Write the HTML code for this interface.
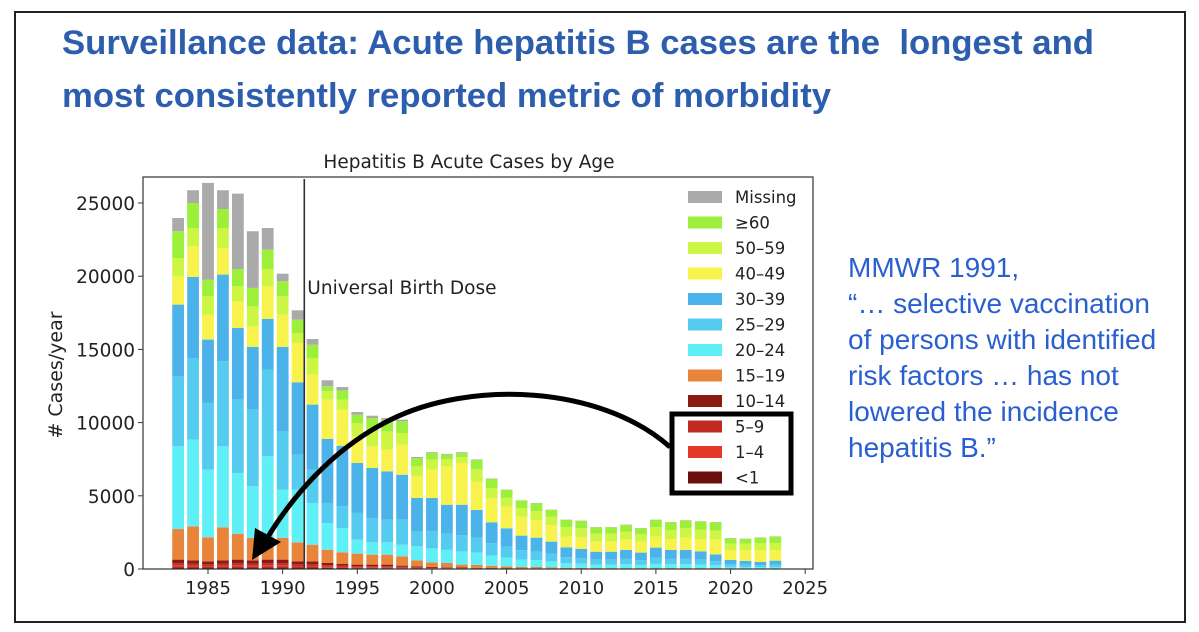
<!DOCTYPE html>
<html><head><meta charset="utf-8">
<style>
body{margin:0;background:#fff;width:1199px;height:632px;overflow:hidden;font-family:"Liberation Sans","DejaVu Sans",sans-serif}
#frame{position:absolute;left:14px;top:11px;width:1168px;height:608px;border:2px solid #222}
.title{position:absolute;left:62px;color:#2d5eae;font-weight:bold;font-size:34.7px;white-space:nowrap}
.note{position:absolute;left:848px;top:250px;color:#2a5fd0;font-size:28px;line-height:36px;white-space:nowrap}
svg{position:absolute;left:0;top:0}
svg text{font-family:"DejaVu Sans","Liberation Sans",sans-serif}
</style></head>
<body>
<div id="frame"></div>
<div class="title" style="top:24px">Surveillance data: Acute hepatitis B cases are the&nbsp; longest and</div>
<div class="title" style="top:77px">most consistently reported metric of morbidity</div>
<div class="note">MMWR 1991,<br>“… selective vaccination<br>of persons with identified<br>risk factors … has not<br>lowered the incidence<br>hepatitis B.”</div>
<svg id="chart" width="1199" height="632"></svg>
<script>
const years=[];for(let y=1983;y<=2023;y++)years.push(y);
const seriesNames=['<1','1–4','5–9','10–14','15–19','20–24','25–29','30–39','40–49','50–59','≥60','Missing'];
const seriesColors=['#6a0f0c','#e4382b','#c12a20','#8a1a12','#e8853a','#5ff0f7','#55cbef','#4cb3ea','#f7f24c','#cdf543','#9cf03c','#aaaaaa'];
const lt1=[120,110,100,110,120,110,120,120,100,100,80,70,60,60,60,40,30,30,20,20,15,15,10,10,10,10,5,5,5,5,5,5,5,5,5,5,5,2,2,2,2];
const a1_4=[130,120,100,120,130,120,130,130,100,100,80,70,60,60,60,50,40,30,30,20,15,15,10,10,10,10,5,5,5,5,5,5,5,5,5,5,5,3,3,3,3];
const a5_9=[150,140,120,140,150,140,150,150,120,120,100,90,70,70,70,60,50,40,30,25,20,15,15,10,10,10,10,10,5,5,5,5,5,5,5,5,5,2,2,2,2];
const a10_14=[240,220,200,220,240,220,240,240,200,200,150,130,110,110,110,80,60,50,40,35,30,25,25,20,20,10,10,10,5,5,5,5,5,5,5,5,5,3,3,3,3];
const a15_19=[2090,2325,1640,2260,1770,1530,1520,1480,1300,1140,910,780,750,680,680,640,410,305,290,200,200,150,120,100,90,80,60,50,40,40,40,40,40,40,40,40,40,30,30,30,30];
const a20_24=[5650,5920,4630,5530,4150,3530,5540,3300,3600,2850,1820,1660,950,840,840,790,960,950,900,900,850,700,600,500,460,400,300,280,240,240,260,220,290,260,260,240,190,110,100,90,100];
const a25_29=[4780,5575,4550,5810,5010,5230,5920,3980,2390,2280,1370,1480,1830,1660,1550,1710,1020,1170,1100,1100,1000,850,750,630,600,520,420,390,340,340,370,320,420,370,370,340,280,170,150,130,150];
const a30_39=[4900,5540,4330,5920,4890,4290,3460,5770,4940,4440,4370,4140,3410,3420,3300,3070,2280,2280,1980,2090,1900,1420,1250,1000,940,830,670,620,540,540,610,520,690,610,610,560,470,295,260,220,280];
const a40_49=[1930,2090,1700,1820,1820,1410,2230,2200,2690,2050,2690,2460,1820,1480,1480,2050,1480,1940,2620,2850,1940,1640,1480,1290,1210,1140,730,800,690,690,700,750,750,750,840,850,1000,685,750,820,730];
const a50_59=[1250,1250,1260,1360,1030,1360,1180,1260,680,1130,570,690,910,1140,1250,800,680,680,500,400,850,700,600,600,600,560,650,620,540,540,560,500,650,620,640,640,620,440,440,470,480];
const a60p=[1830,1710,1130,1300,1180,1260,1320,1020,910,910,340,630,570,790,800,800,570,450,300,280,630,620,540,500,540,460,490,490,440,440,450,410,490,510,530,550,570,360,310,370,430];
const missing=[910,870,6610,1280,5150,3870,1480,520,640,390,410,230,180,160,110,110,70,50,50,50,30,30,20,20,20,20,20,20,20,20,20,20,20,20,20,20,20,20,20,20,20];
const series=[lt1,a1_4,a5_9,a10_14,a15_19,a20_24,a25_29,a30_39,a40_49,a50_59,a60p,missing];
const xTicks=[1985,1990,1995,2000,2005,2010,2015,2020,2025];
const yTicks=[0,5000,10000,15000,20000,25000];

const NS='http://www.w3.org/2000/svg';
const svg=document.getElementById('chart');
function mk(tag,attrs,parent){const e=document.createElementNS(NS,tag);for(const k in attrs)e.setAttribute(k,attrs[k]);(parent||svg).appendChild(e);return e;}
const X0=143,X1=813,Y0=569,Y1=177;
const xs=y=>208+(y-1985)*14.93;
const ys=v=>Y0-v*0.01464;
const bw=11.8;

const bars=mk('g',{});


years.forEach((yr,i)=>{
  let cum=0;
  series.forEach((s,k)=>{
    const v=s[i];
    const r=mk('rect',{x:xs(yr)-bw/2,y:ys(cum+v),width:bw,height:Math.max(0,ys(cum)-ys(cum+v)),fill:seriesColors[k]},bars);
    
    
    cum+=v;
  });
});
const box=mk('rect',{x:X0,y:Y1,width:X1-X0,height:Y0-Y1,fill:'none',stroke:'#333','stroke-width':1.2});


xTicks.forEach(t=>{
  mk('line',{x1:xs(t),x2:xs(t),y1:Y0,y2:Y0+5,stroke:'#333'});
  const tx=mk('text',{x:xs(t),y:Y0+25,'font-size':18,'text-anchor':'middle',fill:'#222'});
  tx.textContent=t;
  
  
});
yTicks.forEach(t=>{
  mk('line',{x1:X0-5,x2:X0,y1:ys(t),y2:ys(t),stroke:'#333'});
  const tx=mk('text',{x:X0-8,y:ys(t)+7,'font-size':18.5,'text-anchor':'end',fill:'#222'});
  tx.textContent=t;
  
  
});
const yl=mk('text',{x:0,y:0,'font-size':19,'text-anchor':'middle',fill:'#222',transform:'translate(62,375) rotate(-90)'});
yl.textContent='# Cases/year';


const ct=mk('text',{x:469,y:168,'font-size':18.5,'text-anchor':'middle',fill:'#222'});
ct.textContent='Hepatitis B Acute Cases by Age';


const bx=xs(1991.45);
const bl=mk('line',{x1:bx,x2:bx,y1:Y1+2,y2:Y0,stroke:'#333','stroke-width':1.6});


const bt=mk('text',{x:bx+3,y:294,'font-size':18.5,fill:'#222'});
bt.textContent='Universal Birth Dose';


const lg=mk('g',{});


for(let j=0;j<12;j++){
  const k=11-j, cy=197+j*25.5;
  mk('rect',{x:688,y:cy-6,width:34,height:12,fill:seriesColors[k]},lg);
  const t=mk('text',{x:735,y:cy+6,'font-size':16.5,fill:'#222'},lg);
  t.textContent=seriesNames[k];
  
  
}
const hb=mk('rect',{x:672,y:414,width:119,height:79,fill:'none',stroke:'#000','stroke-width':5});


const ar=mk('path',{d:'M670,447 C600,385 470,380 390,420 C330,450 290,500 266,540',fill:'none',stroke:'#000','stroke-width':5});


const ah=mk('polygon',{points:'252,560 255,528 281,542',fill:'#000'});


</script>
</body></html>
